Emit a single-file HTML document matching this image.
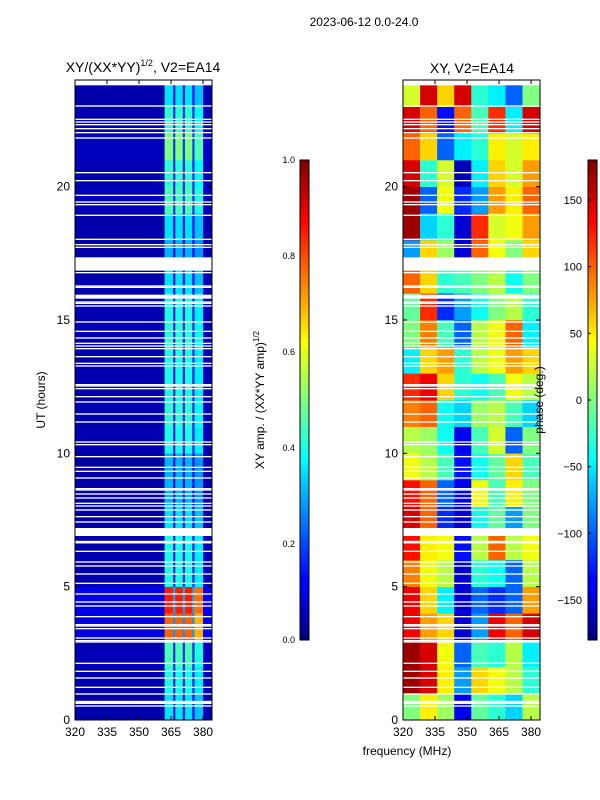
<!DOCTYPE html>
<html><head><meta charset="utf-8">
<style>
body{margin:0;background:#fff;}
svg{display:block;font-family:"Liberation Sans",sans-serif;}
</style></head>
<body>
<svg id="fig" width="600" height="800" xmlns="http://www.w3.org/2000/svg">
<defs>
<linearGradient id="jet" x1="0" y1="1" x2="0" y2="0">
<stop offset="0" stop-color="#00007f"/><stop offset="0.11" stop-color="#0000ff"/>
<stop offset="0.125" stop-color="#0000ff"/><stop offset="0.34" stop-color="#00d4ff"/>
<stop offset="0.375" stop-color="#00ffff"/><stop offset="0.5" stop-color="#7fff7f"/>
<stop offset="0.625" stop-color="#ffff00"/><stop offset="0.66" stop-color="#ffd400"/>
<stop offset="0.875" stop-color="#ff0000"/><stop offset="1" stop-color="#7f0000"/>
</linearGradient>
</defs>
<text x="364" y="26" font-size="12" text-anchor="middle">2023-06-12 0.0-24.0</text>
<text x="143" y="72" font-size="14" text-anchor="middle">XY/(XX*YY)<tspan font-size="9" dy="-6">1/2</tspan><tspan dy="6">, V2=EA14</tspan></text>
<text x="472" y="73" font-size="14" text-anchor="middle">XY, V2=EA14</text>
<g id="left"></g>
<g id="right"></g>
<g id="axes"></g>
<text transform="translate(45,400) rotate(-90)" font-size="12" text-anchor="middle">UT (hours)</text>
<text x="407" y="755" font-size="12" text-anchor="middle">frequency (MHz)</text>
<rect x="300" y="160" width="9" height="480" fill="url(#jet)" stroke="#000" stroke-width="1"/>
<rect x="588" y="160" width="9" height="480" fill="url(#jet)" stroke="#000" stroke-width="1"/>
<text transform="translate(264,400) rotate(-90)" font-size="12" text-anchor="middle">XY amp. / (XX*YY amp)<tspan font-size="8" dy="-5">1/2</tspan></text>
<text transform="translate(543,400) rotate(-90)" font-size="12" text-anchor="middle">phase (deg.)</text>
<g id="cb"></g>
</svg>
<script>
// ---- data ----
const hourRows = [0,1,2,3,4,5,6,7,8,9,10,11,12,13,14,15,16,17,18,19,20,21,22,23];
const ampRowLevel = [0.35,0.4,0.45,0.78,0.85,0.4,0.4,0.35,0.3,0.3,0.4,0.42,0.4,0.4,0.42,0.4,0.35,0.3,0.35,0.45,0.42,0.5,0.42,0.35];
const ampColEdges = [320,362,366,367,370.5,371.5,375,376,380,384.2];
const ampColFactor = [0.12,1,0.35,1,0.35,1,0.35,0.9,0.15];
const phaseColEdges = [320,328,336,344,352,360,368,376,384.2];
const phaseGrid = [
 [0,50,10,-140,-10,-30,-60,20],
 [170,150,50,-80,60,40,20,-30],
 [170,150,40,-100,-20,-30,20,-50],
 [140,80,60,-150,-80,140,100,150],
 [140,60,-50,-150,-100,-120,-100,80],
 [90,40,20,-150,-30,-40,-100,20],
 [130,50,40,-130,20,100,20,40],
 [150,100,-120,-150,-40,-10,-80,0],
 [130,100,-100,-140,40,-20,50,0],
 [40,20,-20,-130,-40,-10,60,-20],
 [20,10,-40,-140,-20,30,-100,0],
 [90,100,-40,-60,10,20,-20,-60],
 [120,140,60,-30,-40,-20,40,20],
 [-50,60,80,-30,20,40,80,60],
 [0,90,-20,-100,20,40,100,-50],
 [-10,120,-120,-80,-40,0,20,-30],
 [100,60,-30,-20,0,20,-40,0],
 [-80,60,10,-150,100,40,0,60],
 [170,-60,-30,-150,120,30,40,80],
 [170,-100,40,-120,-80,80,50,100],
 [150,-30,30,-160,-50,60,30,80],
 [100,60,-100,-50,-30,50,30,50],
 [150,100,-130,100,-20,120,-50,150],
 [30,150,60,150,-30,-50,-100,0]
];
const flagStarts = [23.8,23.0,22.5,22.4,22.3,22.15,22.0,21.8,20.5,20.2,19.65,19.4,19.3,18.9,18.0,17.8,17.7,16.85,16.75,16.25,16.2,15.8,15.65,15.6,15.5,14.9,14.55,14.3,14.1,14.0,13.9,13.6,13.35,13.25,12.55,12.5,12.4,12.1,11.9,11.45,11.15,10.4,10.3,9.85,9.45,9.3,9.05,8.65,8.6,8.45,8.3,8.1,8.0,7.85,7.6,7.4,6.9,6.62,6.3,5.9,5.75,5.45,5.1,4.7,4.4,4.25,3.85,3.55,3.5,3.4,3.05,2.95,2.9,2.1,1.8,1.55,1.2,0.95,0.6,0.5];
const flagEnds   = [23.98,23.05,22.55,22.45,22.35,22.2,22.05,21.85,20.55,20.25,19.7,19.45,19.35,18.95,18.05,17.85,17.75,17.35,16.8,16.3,16.25,15.95,15.7,15.65,15.55,14.95,14.6,14.35,14.15,14.05,13.95,13.65,13.4,13.3,12.6,12.55,12.45,12.15,11.95,11.5,11.2,10.45,10.35,9.9,9.5,9.35,9.1,8.7,8.65,8.5,8.35,8.15,8.05,7.9,7.65,7.45,7.2,6.72,6.35,5.95,5.8,5.5,5.15,4.75,4.45,4.3,3.9,3.6,3.55,3.45,3.1,3.0,2.95,2.15,1.85,1.6,1.25,1.0,0.72,0.55];
const xTicks = [320,335,350,365,380];
const yTicks = [0,5,10,15,20];
const ampCbTicks = [0.0,0.2,0.4,0.6,0.8,1.0];
const phaseCbTicks = [-150,-100,-50,0,50,100,150];

// ---- scales ----
const NS='http://www.w3.org/2000/svg';
const panels = {left:{x0:75,x1:212},right:{x0:403,x1:540}};
const fMin=320,fMax=384.2,tMin=0,tMax=24,yTop=80,yBot=720;
function xs(p,f){return panels[p].x0+(f-fMin)/(fMax-fMin)*(panels[p].x1-panels[p].x0);}
function ys(t){return yBot-(t-tMin)/(tMax-tMin)*(yBot-yTop);}
function jet(v){v=Math.max(0,Math.min(1,v));
 const r=Math.max(0,Math.min(1,1.5-Math.abs(4*v-3))),g=Math.max(0,Math.min(1,1.5-Math.abs(4*v-2))),b=Math.max(0,Math.min(1,1.5-Math.abs(4*v-1)));
 return `rgb(${Math.round(r*255)},${Math.round(g*255)},${Math.round(b*255)})`;}
function mk(tag,attrs,parent){const e=document.createElementNS(NS,tag);for(const k in attrs)e.setAttribute(k,attrs[k]);parent.appendChild(e);return e;}

const L=document.getElementById('left'),R=document.getElementById('right'),A=document.getElementById('axes'),CB=document.getElementById('cb');
hourRows.forEach((h,ri)=>{
 for(let c=0;c<ampColFactor.length;c++){
  const x=xs('left',ampColEdges[c]),x2=xs('left',ampColEdges[c+1]);
  const el=mk('rect',{x:x,y:ys(h+1),width:x2-x+0.3,height:ys(h)-ys(h+1)+0.3,fill:jet(ampRowLevel[ri]*ampColFactor[c])},L);
  
  
 }
 for(let c=0;c<phaseGrid[ri].length;c++){
  const x=xs('right',phaseColEdges[c]),x2=xs('right',phaseColEdges[c+1]);
  const el=mk('rect',{x:x,y:ys(h+1),width:x2-x+0.3,height:ys(h)-ys(h+1)+0.3,fill:jet((phaseGrid[ri][c]+180)/360)},R);
  
  
 }
});
['left','right'].forEach(p=>{
 const g=p==='left'?L:R;
 flagStarts.forEach((s,i)=>{
  const el=mk('rect',{x:panels[p].x0,y:ys(flagEnds[i]),width:panels[p].x1-panels[p].x0,height:Math.max(1,ys(s)-ys(flagEnds[i])),fill:'#fff'},g);
  
  
 });
 const fr=mk('rect',{x:panels[p].x0,y:yTop,width:panels[p].x1-panels[p].x0,height:yBot-yTop,fill:'none',stroke:'#000','stroke-width':1},A);
 
 
 xTicks.forEach(v=>{const x=xs(p,v);
  mk('line',{x1:x,x2:x,y1:yBot,y2:yBot-4,stroke:'#000'},A);
  mk('line',{x1:x,x2:x,y1:yTop,y2:yTop+4,stroke:'#000'},A);
  const t=mk('text',{x:x,y:736,'font-size':12,'text-anchor':'middle'},A);t.textContent=v;
  
  
 });
 yTicks.forEach(v=>{const y=ys(v);
  mk('line',{x1:panels[p].x0,x2:panels[p].x0+4,y1:y,y2:y,stroke:'#000'},A);
  mk('line',{x1:panels[p].x1,x2:panels[p].x1-4,y1:y,y2:y,stroke:'#000'},A);
  const t=mk('text',{x:panels[p].x0-5,y:y+4,'font-size':12,'text-anchor':'end'},A);t.textContent=v;
  
  
 });
});
ampCbTicks.forEach(v=>{const y=640-v*480;
 const t=mk('text',{x:295,y:y+3,'font-size':9,'text-anchor':'end'},CB);t.textContent=v.toFixed(1);
 
 
});
phaseCbTicks.forEach(v=>{const y=640-(v+180)/360*480;
 mk('line',{x1:588,x2:591,y1:y,y2:y,stroke:'#000'},CB);
 const t=mk('text',{x:582,y:y+4,'font-size':11,'text-anchor':'end'},CB);t.textContent=v<0?'\u2212'+(-v):v;
 
 
});
</script>
</body></html>
